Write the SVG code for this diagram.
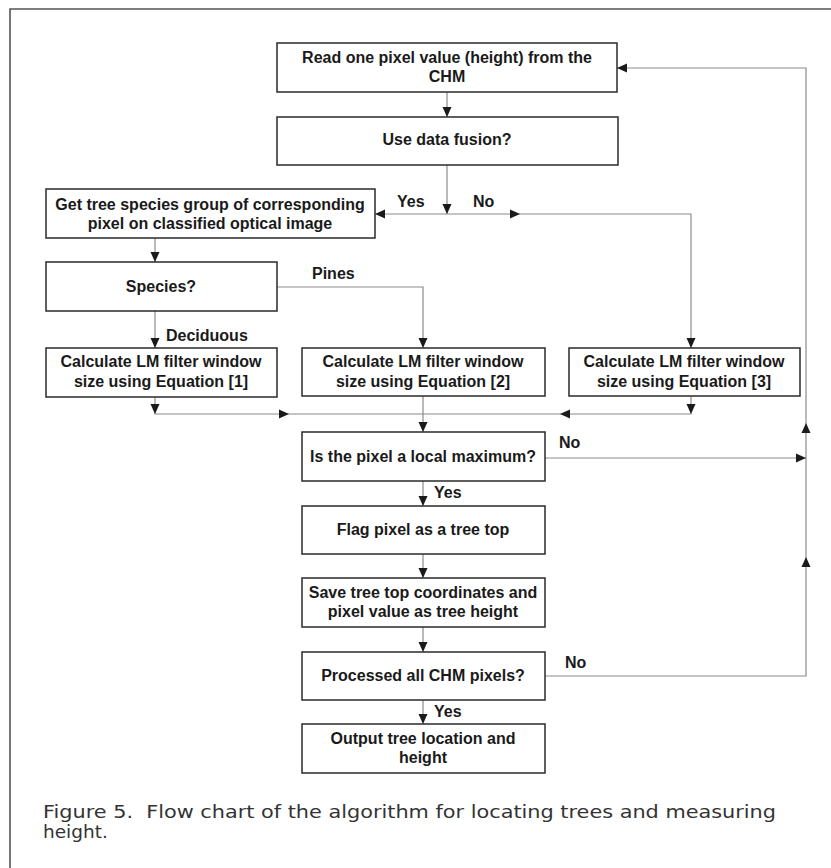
<svg xmlns="http://www.w3.org/2000/svg" xmlns:xlink="http://www.w3.org/1999/xlink" width="831" height="868" viewBox="0 0 831 868">
<style>
.box{fill:#fff;stroke:#2a2a2a;stroke-width:1.5}
.t{font-family:"Liberation Sans",Arial,sans-serif;font-weight:bold;font-size:16px;fill:#1a1a1a;text-anchor:middle}
.lbl{font-family:"Liberation Sans",Arial,sans-serif;font-weight:bold;font-size:16px;fill:#1a1a1a}
.c{fill:none;stroke:#8c8c8c;stroke-width:1.2}
.ah{fill:#1a1a1a}
.cap{font-family:"DejaVu Sans","Liberation Sans",sans-serif;font-size:18.5px;fill:#333}
</style>
<defs>
<path id="ah" d="M0,0 L-10,-4.5 L-10,4.5 Z"/>
</defs>
<rect x="0" y="0" width="831" height="868" fill="#fff"/>
<path d="M10,868 V9 H831" fill="none" stroke="#555" stroke-width="1.6"/>

<g id="connectors">
<path class="c" d="M447,92 V117"/>
<path class="c" d="M447,165 V214"/>
<path class="c" d="M375,214 H691 V348"/>
<path class="c" d="M155,238 V262"/>
<path class="c" d="M155,311 V348"/>
<path class="c" d="M277,287 H423 V348"/>
<path class="c" d="M155,397 V414 H691 V397"/>
<path class="c" d="M423,396 V432"/>
<path class="c" d="M423,481 V506"/>
<path class="c" d="M423,554 V578"/>
<path class="c" d="M423,627 V652"/>
<path class="c" d="M423,700 V724"/>
<path class="c" d="M545,458 H806"/>
<path class="c" d="M545,676 H806 V68 H617"/>
<g class="ah">
<use xlink:href="#ah" transform="translate(447,117) rotate(90)"/>
<use xlink:href="#ah" transform="translate(447,214) rotate(90)"/>
<use xlink:href="#ah" transform="translate(375,214) rotate(180)"/>
<use xlink:href="#ah" transform="translate(520,214)"/>
<use xlink:href="#ah" transform="translate(691,348) rotate(90)"/>
<use xlink:href="#ah" transform="translate(155,262) rotate(90)"/>
<use xlink:href="#ah" transform="translate(155,348) rotate(90)"/>
<use xlink:href="#ah" transform="translate(423,348) rotate(90)"/>
<use xlink:href="#ah" transform="translate(155,414) rotate(90)"/>
<use xlink:href="#ah" transform="translate(691,414) rotate(90)"/>
<use xlink:href="#ah" transform="translate(289,414)"/>
<use xlink:href="#ah" transform="translate(560,414) rotate(180)"/>
<use xlink:href="#ah" transform="translate(423,432) rotate(90)"/>
<use xlink:href="#ah" transform="translate(423,506) rotate(90)"/>
<use xlink:href="#ah" transform="translate(423,578) rotate(90)"/>
<use xlink:href="#ah" transform="translate(423,652) rotate(90)"/>
<use xlink:href="#ah" transform="translate(423,724) rotate(90)"/>
<use xlink:href="#ah" transform="translate(806,458)"/>
<use xlink:href="#ah" transform="translate(806,423) rotate(-90)"/>
<use xlink:href="#ah" transform="translate(806,557) rotate(-90)"/>
<use xlink:href="#ah" transform="translate(617,68) rotate(180)"/>
</g>
<text class="lbl" x="397" y="207">Yes</text>
<text class="lbl" x="473" y="207">No</text>
<text class="lbl" x="312" y="279">Pines</text>
<text class="lbl" x="166" y="341">Deciduous</text>
<text class="lbl" x="559" y="448">No</text>
<text class="lbl" x="434" y="498">Yes</text>
<text class="lbl" x="565" y="668">No</text>
<text class="lbl" x="434" y="717">Yes</text>
</g>

<g id="read">
<rect class="box" x="277" y="43" width="340" height="49"/>
<text class="t" x="447" y="63">Read one pixel value (height) from the</text>
<text class="t" x="447" y="82">CHM</text>
</g>
<g id="fusion">
<rect class="box" x="277" y="117" width="341" height="48"/>
<text class="t" x="447" y="145">Use data fusion?</text>
</g>
<g id="getspecies">
<rect class="box" x="46" y="189" width="329" height="49"/>
<text class="t" x="210" y="210">Get tree species group of corresponding</text>
<text class="t" x="210" y="229">pixel on classified optical image</text>
</g>
<g id="species">
<rect class="box" x="46" y="262" width="231" height="49"/>
<text class="t" x="161" y="292">Species?</text>
</g>
<g id="eq1">
<rect class="box" x="46" y="348" width="231" height="49"/>
<text class="t" x="161" y="367">Calculate LM filter window</text>
<text class="t" x="161" y="387">size using Equation [1]</text>
</g>
<g id="eq2">
<rect class="box" x="302" y="348" width="243" height="48"/>
<text class="t" x="423" y="367">Calculate LM filter window</text>
<text class="t" x="423" y="387">size using Equation [2]</text>
</g>
<g id="eq3">
<rect class="box" x="569" y="348" width="231" height="48"/>
<text class="t" x="684" y="367">Calculate LM filter window</text>
<text class="t" x="684" y="387">size using Equation [3]</text>
</g>
<g id="localmax">
<rect class="box" x="302" y="432" width="243" height="49"/>
<text class="t" x="423" y="462">Is the pixel a local maximum?</text>
</g>
<g id="flag">
<rect class="box" x="302" y="506" width="243" height="48"/>
<text class="t" x="423" y="535">Flag pixel as a tree top</text>
</g>
<g id="save">
<rect class="box" x="302" y="578" width="243" height="49"/>
<text class="t" x="423" y="598">Save tree top coordinates and</text>
<text class="t" x="423" y="617">pixel value as tree height</text>
</g>
<g id="processed">
<rect class="box" x="302" y="652" width="243" height="48"/>
<text class="t" x="423" y="681">Processed all CHM pixels?</text>
</g>
<g id="output">
<rect class="box" x="302" y="724" width="243" height="49"/>
<text class="t" x="423" y="744">Output tree location and</text>
<text class="t" x="423" y="763">height</text>
</g>

<g id="caption">
<text class="cap" x="43" y="818" textLength="733" lengthAdjust="spacingAndGlyphs">Figure 5.&#160; Flow chart of the algorithm for locating trees and measuring</text>
<text class="cap" x="43" y="838">height.</text>
</g>
</svg>
